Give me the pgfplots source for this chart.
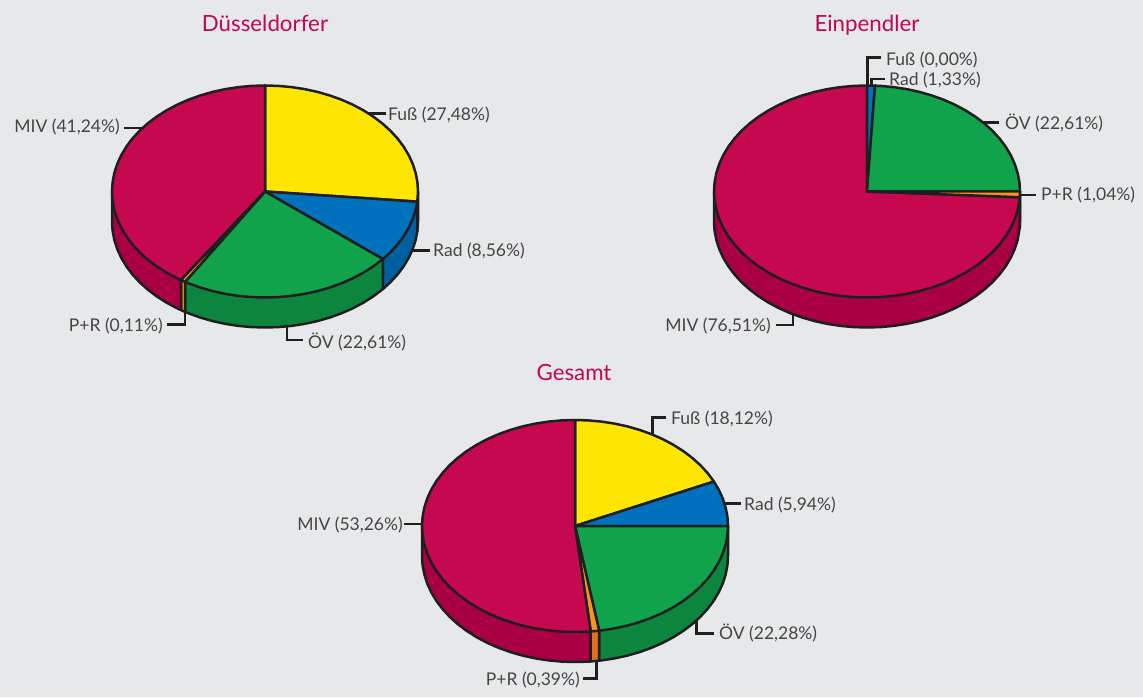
\documentclass[border=0pt]{standalone}
\usepackage{pgfplots}
\pgfplotsset{compat=1.18}
\usepackage{fontspec}
\setmainfont{Lato}
\definecolor{bg}{HTML}{E6E8EA}
\definecolor{edge}{HTML}{1F1F1F}
\definecolor{txt}{HTML}{454545}
\definecolor{cY}{HTML}{FFE600}
\definecolor{cYd}{HTML}{D9C400}
\definecolor{cB}{HTML}{0071BC}
\definecolor{cBd}{HTML}{005F9E}
\definecolor{cG}{HTML}{11A34B}
\definecolor{cGd}{HTML}{0C863E}
\definecolor{cO}{HTML}{F7941D}
\definecolor{cOd}{HTML}{E0701A}
\definecolor{cR}{HTML}{C6084F}
\definecolor{cRd}{HTML}{A80043}
\pgfplotsset{
  pie/.style={hide axis,scale only axis,width=306pt,height=212pt,xmin=-1,xmax=1,ymin=-1,ymax=1,
    clip=false,no markers,anchor=center},
  sec/.style={draw=edge,line width=2.5pt,line join=round,fill=#1},
  ld/.style={edge,line width=2.5pt},
}
\newcommand{\lab}[3]{\node[anchor=#1,inner sep=0pt,text=txt,font=\fontsize{17.5}{20}\selectfont] at (axis cs:#2) {#3};}
\newcommand{\ttl}[2]{\node[anchor=base,inner sep=0pt,text=cR,font=\fontsize{22.3}{26}\selectfont] at (axis cs:#1) {#2};}
\begin{document}
\begin{tikzpicture}
\begin{axis}[hide axis,scale only axis,width=1143pt,height=697pt,xmin=0,xmax=1143,ymin=0,ymax=697,
  y dir=reverse,clip=false,no markers,at={(0pt,0pt)},anchor=south west]
\addplot[fill=bg,draw=none] coordinates {(0,0) (1143,0) (1143,697) (0,697)} -- cycle;
% leader lines
\addplot[ld] coordinates {(368,113.5) (386,113.5)};
\addplot[ld] coordinates {(412,250.7) (430,250.7)};
\addplot[ld] coordinates {(185,311) (185,324.5) (167,324.5)};
\addplot[ld] coordinates {(287,326) (287,340) (303,340)};
\addplot[ld] coordinates {(124,128) (143,128)};
\addplot[ld] coordinates {(867.3,90) (867.3,57.3) (881,57.3)};
\addplot[ld] coordinates {(871.7,90) (871.7,79) (885,79)};
\addplot[ld] coordinates {(980,122.3) (999,122.3)};
\addplot[ld] coordinates {(1018,195) (1036,195)};
\addplot[ld] coordinates {(793,310) (793,325) (776,325)};
\addplot[ld] coordinates {(652.3,435) (652.3,417.5) (666,417.5)};
\addplot[ld] coordinates {(722,503.3) (740.7,503.3)};
\addplot[ld] coordinates {(696.7,620) (696.7,633.3) (714,633.3)};
\addplot[ld] coordinates {(596.7,661) (596.7,678.3) (583,678.3)};
\addplot[ld] coordinates {(404,524) (425,524)};
% titles
\ttl{265,31}{Düsseldorfer}
\ttl{867,31}{Einpendler}
\ttl{574,380}{Gesamt}
% labels
\lab{west}{388,115}{Fuß (27,48\%)}
\lab{west}{433,251}{Rad (8,56\%)}
\lab{west}{308,342}{ÖV (22,61\%)}
\lab{east}{163,326}{P+R (0,11\%)}
\lab{east}{120,127}{MIV (41,24\%)}
\lab{west}{886,60}{Fuß (0,00\%)}
\lab{west}{889,80}{Rad (1,33\%)}
\lab{west}{1005,123}{ÖV (22,61\%)}
\lab{west}{1041,195}{P+R (1,04\%)}
\lab{east}{771,326}{MIV (76,51\%)}
\lab{west}{671,419}{Fuß (18,12\%)}
\lab{west}{744,505}{Rad (5,94\%)}
\lab{west}{719,633}{ÖV (22,28\%)}
\lab{east}{580,680}{P+R (0,39\%)}
\lab{east}{403,525}{MIV (53,26\%)}
\end{axis}

% ---------- Duesseldorfer
\begin{axis}[pie,at={(265pt,505.5pt)}]
\addplot[sec=cYd] coordinates {(1,0) (1,-.283) (.9954,-.3758) (.9954,-.0958) (0,0)} -- cycle;
\addplot[sec=cBd] coordinates {(.9954,-.0958) (.9954,-.3758) (.9848,-.4566) (.9659,-.5418) (.9397,-.6250) (.9063,-.7056) (.8660,-.7830) (.8192,-.8566) (.7705,-.9204) (.7705,-.6374) (0,0)} -- cycle;
\addplot[sec=cGd] coordinates {(.7705,-.6374) (.7705,-.9204) (.7071,-.9901) (.6428,-1.0490) (.5736,-1.1022) (.5,-1.1490) (.4226,-1.1893) (.3420,-1.2227) (.2588,-1.2489) (.1736,-1.2678) (.0872,-1.2792) (0,-1.283) (-.0872,-1.2792) (-.1736,-1.2678) (-.2588,-1.2489) (-.3420,-1.2227) (-.4226,-1.1893) (-.5,-1.1490) (-.5225,-1.1356) (-.5225,-.8526) (0,0)} -- cycle;
\addplot[sec=cO] coordinates {(-.5225,-.8526) (-.5225,-1.1356) (-.5490,-1.1188) (-.5490,-.8358) (0,0)} -- cycle;
\addplot[sec=cRd] coordinates {(-.5490,-.8358) (-.5490,-1.1188) (-.5736,-1.1022) (-.6428,-1.0490) (-.7071,-.9901) (-.7660,-.9258) (-.8192,-.8566) (-.8660,-.7830) (-.9063,-.7056) (-.9397,-.6250) (-.9659,-.5418) (-.9848,-.4566) (-.9962,-.3702) (-1,-.283) (-1,0) (0,0)} -- cycle;
\addplot[sec=cY] coordinates {(0,0) (0,1) (.0872,.9962) (.1736,.9848) (.2588,.9659) (.3420,.9397) (.4226,.9063) (.5,.8660) (.5736,.8192) (.6428,.7660) (.7071,.7071) (.7660,.6428) (.8192,.5736) (.8660,.5) (.9063,.4226) (.9397,.3420) (.9659,.2588) (.9848,.1736) (.9962,.0872) (1,0) (.9954,-.0958)} -- cycle;
\addplot[sec=cB] coordinates {(0,0) (.9954,-.0958) (.9848,-.1736) (.9659,-.2588) (.9397,-.3420) (.9063,-.4226) (.8660,-.5) (.8192,-.5736) (.7705,-.6374)} -- cycle;
\addplot[sec=cG] coordinates {(0,0) (.7705,-.6374) (.7071,-.7071) (.6428,-.7660) (.5736,-.8192) (.5,-.8660) (.4226,-.9063) (.3420,-.9397) (.2588,-.9659) (.1736,-.9848) (.0872,-.9962) (0,-1) (-.0872,-.9962) (-.1736,-.9848) (-.2588,-.9659) (-.3420,-.9397) (-.4226,-.9063) (-.5,-.8660) (-.5225,-.8526)} -- cycle;
\addplot[sec=cR] coordinates {(0,0) (-.5490,-.8358) (-.5736,-.8192) (-.6428,-.7660) (-.7071,-.7071) (-.7660,-.6428) (-.8192,-.5736) (-.8660,-.5) (-.9063,-.4226) (-.9397,-.3420) (-.9659,-.2588) (-.9848,-.1736) (-.9962,-.0872) (-1,0) (-.9962,.0872) (-.9848,.1736) (-.9659,.2588) (-.9397,.3420) (-.9063,.4226) (-.8660,.5) (-.8192,.5736) (-.7660,.6428) (-.7071,.7071) (-.6428,.7660) (-.5736,.8192) (-.5,.8660) (-.4226,.9063) (-.3420,.9397) (-.2588,.9659) (-.1736,.9848) (-.0872,.9962) (0,1)} -- cycle;
\addplot[sec=cO] coordinates {(0,0) (-.5225,-.8526) (-.5490,-.8358)} -- cycle;
\end{axis}

% ---------- Einpendler
\begin{axis}[pie,at={(867pt,505.5pt)}]
\addplot[sec=cO] coordinates {(1,0) (1,-.283) (.9985,-.3371) (.9985,-.0541) (0,0)} -- cycle;
\addplot[sec=cRd] coordinates {(.9985,-.0541) (.9985,-.3371) (.9848,-.4566) (.9659,-.5418) (.9397,-.6250) (.9063,-.7056) (.8660,-.7830) (.8192,-.8566) (.7660,-.9258) (.7071,-.9901) (.6428,-1.0490) (.5736,-1.1022) (.5,-1.1490) (.4226,-1.1893) (.3420,-1.2227) (.2588,-1.2489) (.1736,-1.2678) (.0872,-1.2792) (0,-1.283) (-.0872,-1.2792) (-.1736,-1.2678) (-.2588,-1.2489) (-.3420,-1.2227) (-.4226,-1.1893) (-.5,-1.1490) (-.5736,-1.1022) (-.6428,-1.0490) (-.7071,-.9901) (-.7660,-.9258) (-.8192,-.8566) (-.8660,-.7830) (-.9063,-.7056) (-.9397,-.6250) (-.9659,-.5418) (-.9848,-.4566) (-.9962,-.3702) (-1,-.283) (-1,0) (0,0)} -- cycle;
\addplot[sec=cR] coordinates {(0,0) (.9985,-.0541) (.9962,-.0872) (.9848,-.1736) (.9659,-.2588) (.9397,-.3420) (.9063,-.4226) (.8660,-.5) (.8192,-.5736) (.7660,-.6428) (.7071,-.7071) (.6428,-.7660) (.5736,-.8192) (.5,-.8660) (.4226,-.9063) (.3420,-.9397) (.2588,-.9659) (.1736,-.9848) (.0872,-.9962) (0,-1) (-.0872,-.9962) (-.1736,-.9848) (-.2588,-.9659) (-.3420,-.9397) (-.4226,-.9063) (-.5,-.8660) (-.5736,-.8192) (-.6428,-.7660) (-.7071,-.7071) (-.7660,-.6428) (-.8192,-.5736) (-.8660,-.5) (-.9063,-.4226) (-.9397,-.3420) (-.9659,-.2588) (-.9848,-.1736) (-.9962,-.0872) (-1,0) (-.9962,.0872) (-.9848,.1736) (-.9659,.2588) (-.9397,.3420) (-.9063,.4226) (-.8660,.5) (-.8192,.5736) (-.7660,.6428) (-.7071,.7071) (-.6428,.7660) (-.5736,.8192) (-.5,.8660) (-.4226,.9063) (-.3420,.9397) (-.2588,.9659) (-.1736,.9848) (-.0872,.9962) (0,1)} -- cycle;
\addplot[sec=cB] coordinates {(0,0) (0,1) (.0523,.9986)} -- cycle;
\addplot[sec=cG] coordinates {(0,0) (.0523,.9986) (.0872,.9962) (.1736,.9848) (.2588,.9659) (.3420,.9397) (.4226,.9063) (.5,.8660) (.5736,.8192) (.6428,.7660) (.7071,.7071) (.7660,.6428) (.8192,.5736) (.8660,.5) (.9063,.4226) (.9397,.3420) (.9659,.2588) (.9848,.1736) (.9962,.0872) (1,0)} -- cycle;
\addplot[sec=cO] coordinates {(0,0) (1,0) (.9985,-.0541)} -- cycle;
\end{axis}

% ---------- Gesamt
\begin{axis}[pie,at={(575pt,171pt)}]
\addplot[sec=cGd] coordinates {(1,0) (1,-.283) (.9962,-.3702) (.9848,-.4566) (.9659,-.5418) (.9397,-.6250) (.9063,-.7056) (.8660,-.7830) (.8192,-.8566) (.7660,-.9258) (.7071,-.9901) (.6428,-1.0490) (.5736,-1.1022) (.5,-1.1490) (.4226,-1.1893) (.3420,-1.2227) (.2588,-1.2489) (.1736,-1.2678) (.1582,-1.2704) (.1582,-.9874) (0,0)} -- cycle;
\addplot[sec=cOd] coordinates {(.1582,-.9874) (.1582,-1.2704) (.1028,-1.2777) (.1028,-.9947) (0,0)} -- cycle;
\addplot[sec=cRd] coordinates {(.1028,-.9947) (.1028,-1.2777) (.0872,-1.2792) (0,-1.283) (-.0872,-1.2792) (-.1736,-1.2678) (-.2588,-1.2489) (-.3420,-1.2227) (-.4226,-1.1893) (-.5,-1.1490) (-.5736,-1.1022) (-.6428,-1.0490) (-.7071,-.9901) (-.7660,-.9258) (-.8192,-.8566) (-.8660,-.7830) (-.9063,-.7056) (-.9397,-.6250) (-.9659,-.5418) (-.9848,-.4566) (-.9962,-.3702) (-1,-.283) (-1,0) (0,0)} -- cycle;
\addplot[sec=cY] coordinates {(0,0) (0,1) (.0872,.9962) (.1736,.9848) (.2588,.9659) (.3420,.9397) (.4226,.9063) (.5,.8660) (.5736,.8192) (.6428,.7660) (.7071,.7071) (.7660,.6428) (.8192,.5736) (.8660,.5) (.9078,.4195)} -- cycle;
\addplot[sec=cB] coordinates {(0,0) (.9078,.4195) (.9397,.3420) (.9659,.2588) (.9848,.1736) (.9962,.0872) (1,0)} -- cycle;
\addplot[sec=cG] coordinates {(0,0) (1,0) (.9962,-.0872) (.9848,-.1736) (.9659,-.2588) (.9397,-.3420) (.9063,-.4226) (.8660,-.5) (.8192,-.5736) (.7660,-.6428) (.7071,-.7071) (.6428,-.7660) (.5736,-.8192) (.5,-.8660) (.4226,-.9063) (.3420,-.9397) (.2588,-.9659) (.1736,-.9848) (.1582,-.9874)} -- cycle;
\addplot[sec=cO] coordinates {(0,0) (.1582,-.9874) (.1028,-.9947)} -- cycle;
\addplot[sec=cR] coordinates {(0,0) (.1028,-.9947) (.0872,-.9962) (0,-1) (-.0872,-.9962) (-.1736,-.9848) (-.2588,-.9659) (-.3420,-.9397) (-.4226,-.9063) (-.5,-.8660) (-.5736,-.8192) (-.6428,-.7660) (-.7071,-.7071) (-.7660,-.6428) (-.8192,-.5736) (-.8660,-.5) (-.9063,-.4226) (-.9397,-.3420) (-.9659,-.2588) (-.9848,-.1736) (-.9962,-.0872) (-1,0) (-.9962,.0872) (-.9848,.1736) (-.9659,.2588) (-.9397,.3420) (-.9063,.4226) (-.8660,.5) (-.8192,.5736) (-.7660,.6428) (-.7071,.7071) (-.6428,.7660) (-.5736,.8192) (-.5,.8660) (-.4226,.9063) (-.3420,.9397) (-.2588,.9659) (-.1736,.9848) (-.0872,.9962) (0,1)} -- cycle;
\end{axis}
\end{tikzpicture}
\end{document}
